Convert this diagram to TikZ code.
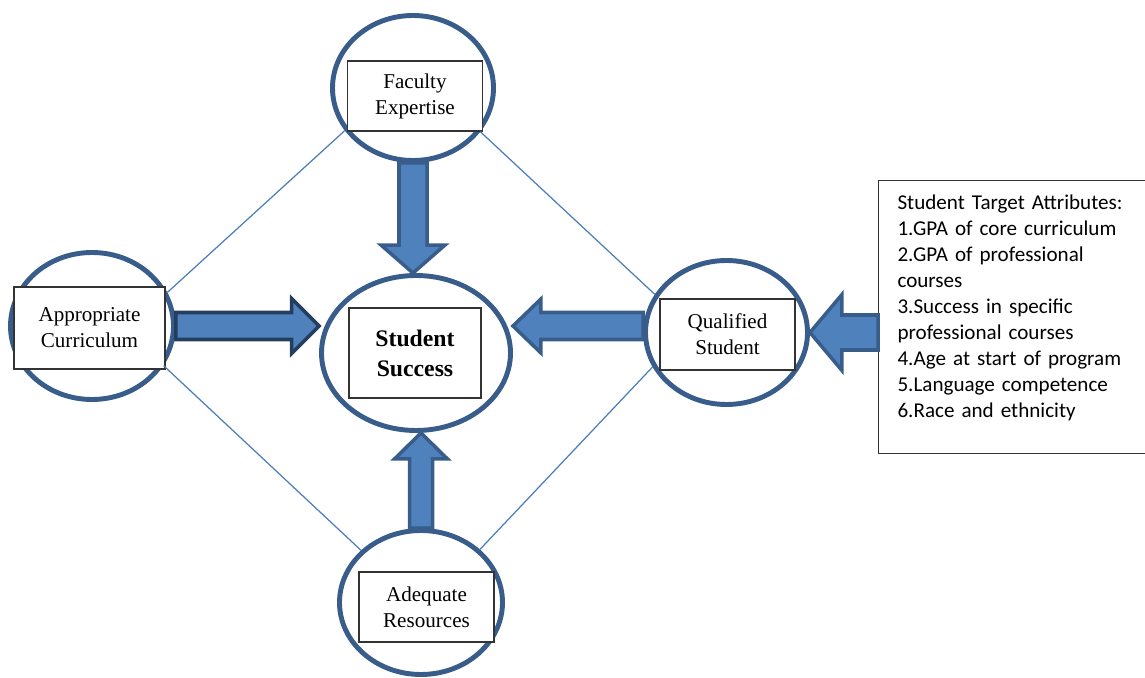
\documentclass[tikz,border=0pt]{standalone}
\usepackage{fontspec}
\setmainfont{Liberation Serif}
\newfontfamily\attrfont{Carlito}
\usetikzlibrary{positioning,shapes.geometric,calc}

\definecolor{ringblue}{RGB}{56,93,138}
\definecolor{arrowfill}{RGB}{79,129,189}
\definecolor{arrowdark}{RGB}{36,62,96}
\definecolor{linkblue}{RGB}{74,126,187}

% block arrow from #2 to #3: shaft half width, head half width, head length
\newcommand{\fatarrow}[6][]{%
  \coordinate (fa-h) at ($(#3)!#6!(#2)$);
  \draw[blockarrow,#1] ($(#2)!#4!90:(#3)$) -- ($(fa-h)!#4!90:(#3)$)
    -- ($(fa-h)!#5!90:(#3)$) -- (#3) -- ($(fa-h)!#5!-90:(#3)$)
    -- ($(fa-h)!#4!-90:(#3)$) -- ($(#2)!#4!-90:(#3)$) -- cycle;
}

\begin{document}
\begin{tikzpicture}[
  bubble/.style={
        ellipse,
        draw=ringblue,
        line width=2.8pt,
        fill=white,
        inner sep=0pt
  },
  tag/.style={
        draw=black!80,
        line width=0.6pt,
        fill=white,
        align=center,
        inner sep=0pt,
        font=\fontsize{12}{14.8}\selectfont
  },
  link/.style={draw=linkblue, line width=0.7pt},
  blockarrow/.style={draw=ringblue, fill=arrowfill, line width=2pt, line join=miter}
]

    \useasboundingbox (0,0) rectangle (22.9,13.54);

    \node[bubble, minimum width=3.22cm, minimum height=2.9cm] (fac) at (8.26,11.78) {};
    \node[bubble, minimum width=3.78cm, minimum height=3.1cm] (ss) at (8.32,6.48) {};
    \node[bubble, minimum width=3.26cm, minimum height=2.94cm] (cur) at (1.84,7.02) {};
    \node[bubble, minimum width=3.24cm, minimum height=2.88cm] (qs) at (14.53,6.89) {};
    \node[bubble, minimum width=3.26cm, minimum height=2.88cm] (res) at (8.42,1.49) {};

    \node[tag, minimum width=2.7cm, minimum height=1.4cm] (facT) at (8.30,11.62) {Faculty\\Expertise};
    \node[tag, minimum width=2.64cm, minimum height=1.8cm,
          font=\bfseries\fontsize{13.5}{17}\selectfont] (ssT) at (8.30,6.48) {Student\\Success};
    \node[tag, minimum width=3.02cm, minimum height=1.64cm] (curT) at (1.79,6.98) {Appropriate\\Curriculum};
    \node[tag, minimum width=2.7cm, minimum height=1.42cm] (qsT) at (14.55,6.85) {Qualified\\Student};
    \node[tag, minimum width=2.7cm, minimum height=1.4cm] (resT) at (8.53,1.40) {Adequate\\Resources};

    \node[draw=black!80, line width=0.6pt, anchor=north west,
          minimum width=5.3cm, minimum height=5.46cm, text width=4.9cm,
          inner xsep=0.38cm, align=left,
          font=\attrfont\fontsize{12}{14.8}\selectfont] (attr) at (17.56,9.94)
          {Student Target Attributes:\\1.GPA of core curriculum\\2.GPA of professional\\courses\\3.Success in specific\\professional courses\\4.Age at start of program\\5.Language competence\\6.Race and ethnicity\\[-2pt]\mbox{}};

    % thin diamond
    \draw[link] (fac.212) -- (cur.24);
    \draw[link] (fac.327) -- (qs.152);
    \draw[link] (cur.331) -- (res.139);
    \draw[link] (qs.205) -- (res.42);

    % block arrows into the centre
    \coordinate (facS) at (fac.south);
    \coordinate (ssN) at (facS |- ss.north);
    \fatarrow{facS}{ssN}{0.28cm}{0.64cm}{0.56cm}

    \coordinate (curE) at (cur.east);
    \coordinate (ssW) at (curE -| ss.west);
    \fatarrow[draw=arrowdark]{curE}{ssW}{0.27cm}{0.55cm}{0.55cm}

    \coordinate (qsW) at ($(qs.west)+(0,0.13)$);
    \coordinate (ssE) at (qsW -| ss.east);
    \fatarrow{qsW}{ssE}{0.27cm}{0.54cm}{0.56cm}

    \coordinate (resN) at (res.north);
    \coordinate (ssS) at (resN |- ss.south);
    \fatarrow{resN}{ssS}{0.23cm}{0.53cm}{0.52cm}

    \coordinate (attrW) at (attr.north west |- qs.east);
    \coordinate (qsE) at (qs.east);
    \fatarrow{attrW}{qsE}{0.35cm}{0.76cm}{0.64cm}
\end{tikzpicture}
\end{document}
